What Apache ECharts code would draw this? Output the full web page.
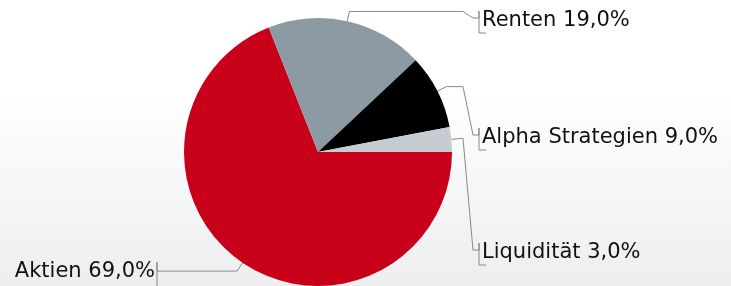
<!DOCTYPE html>
<html>
<head>
<meta charset="utf-8">
<script src="https://cdn.jsdelivr.net/npm/echarts@6/dist/echarts.min.js"></script>
<style>
  html, body { margin: 0; padding: 0; }
  #main { width: 731px; height: 286px; }
</style>
</head>
<body>
<div id="main"></div>
<script>
// Daten
var names = ["Aktien", "Renten", "Alpha Strategien", "Liquidität"];
var values = [69, 19, 9, 3];
var colors = ["#c8001a", "#8c9aa3", "#000000", "#c6cdd2"];

// Layout der Beschriftungen (Mitte der Textzeile, y in px)
var labelCenterY = [272, 21, 138, 253];

var cx = 318, cy = 152, r = 134;

var myChart = echarts.init(document.getElementById("main"));

var seriesData = names.map(function (n, i) {
  return { name: n, value: values[i], itemStyle: { color: colors[i] } };
});

var option = {
  animation: false,
  backgroundColor: {
    type: "linear", x: 0, y: 0, x2: 0, y2: 1,
    colorStops: [
      { offset: 0, color: "#ffffff" },
      { offset: 0.3, color: "#ffffff" },
      { offset: 1, color: "#eceef0" }
    ]
  },
  series: [
    {
      type: "pie",
      center: [cx, cy],
      radius: r,
      startAngle: 0,
      clockwise: true,
      avoidLabelOverlap: false,
      emphasis: { disabled: true },
      data: seriesData,
      label: {
        show: true,
        position: "outside",
        fontFamily: "DejaVu Sans",
        fontSize: 21,
        color: "#111",
        formatter: function (p) {
          return p.name + " " + p.value.toFixed(1).replace(".", ",") + "%";
        }
      },
      labelLine: {
        show: true,
        length: 10,
        length2: 10,
        lineStyle: { color: "#888888", width: 1 }
      },
      labelLayout: function (p) {
        var i = p.dataIndex;
        var pts = p.labelLinePoints;
        var p0 = pts[0], p1 = pts[1];
        var yC = labelCenterY[i];
        if (i === 0) {
          // links
          var bx = 157;
          return {
            x: bx - 2,
            y: yC,
            align: "right",
            verticalAlign: "middle",
            labelLinePoints: [
              p0, p1, [bx, p1[1]], [bx, yC - 10], [bx, yC + 20]
            ]
          };
        }
        var xa = cx + r + 11, xb = cx + r + 21, xc = cx + r + 27;
        var yL = yC - 3;
        return {
          x: xc + 3,
          y: yC,
          align: "left",
          verticalAlign: "middle",
          labelLinePoints: [
            p0, p1, [xa, p1[1]], [xb, yL], [xc, yL],
            [xc, yC - 10], [xc, yC + 12], [xc + 7, yC + 12]
          ]
        };
      }
    }
  ]
};

myChart.setOption(option);
</script>
</body>
</html>
